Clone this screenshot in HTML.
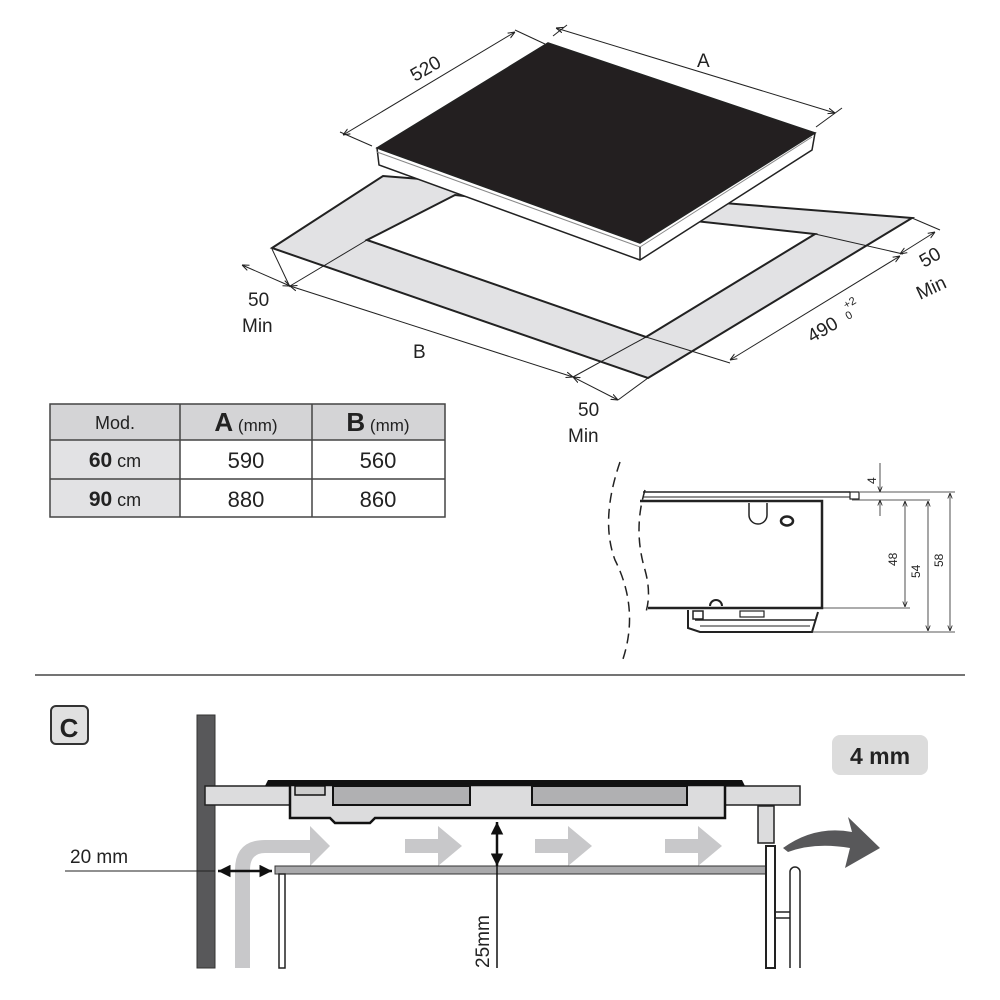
<!DOCTYPE html>
<html><head><meta charset="utf-8"><style>
html,body{margin:0;padding:0;background:#fff}
svg{display:block}
text{font-family:"Liberation Sans",sans-serif;fill:#222}
</style></head><body>
<svg width="1000" height="1000" viewBox="0 0 1000 1000" xmlns="http://www.w3.org/2000/svg">
<defs>
<marker id="ar" viewBox="0 0 10 10" refX="10" refY="5" markerWidth="7" markerHeight="7" orient="auto-start-reverse"><path d="M0,1 L10,5 L0,9" fill="none" stroke="#222" stroke-width="1.5"/></marker>
<marker id="ab" viewBox="0 0 10 10" refX="10" refY="5" markerWidth="5" markerHeight="5" orient="auto-start-reverse"><path d="M0,0 L10,5 L0,10 Z" fill="#111"/></marker>
</defs>

<!-- frame -->
<path d="M272,248 L383,176 L912,218 L648,378 Z M367,240 L646,337 L815,234 L455,195 Z" fill="#e2e2e4" fill-rule="evenodd" stroke="#222" stroke-width="2"/>
<!-- hob -->
<path d="M377,148 L379,165 L640,260 L812,150 L815,133 Z" fill="#fff" stroke="#222" stroke-width="1.5"/>
<path d="M377,148 L548,43 L815,133 L640,243 Z" fill="#231f20" stroke="#222" stroke-width="1.5"/>
<line x1="377" y1="152" x2="640" y2="247" stroke="#888" stroke-width="1"/>
<line x1="640" y1="247" x2="812" y2="137" stroke="#888" stroke-width="1"/>
<line x1="640" y1="247" x2="640" y2="260" stroke="#222" stroke-width="1.5"/>

<!-- dimension lines -->
<g stroke="#222" stroke-width="1" fill="none">
<line x1="343" y1="135" x2="515" y2="32" marker-start="url(#ar)" marker-end="url(#ar)"/>
<line x1="340" y1="132" x2="372" y2="146"/><line x1="515" y1="30" x2="545" y2="44"/>
<line x1="556" y1="28" x2="835" y2="113" marker-start="url(#ar)" marker-end="url(#ar)"/>
<line x1="553" y1="36" x2="567" y2="25"/><line x1="816" y1="127" x2="842" y2="108"/>
<line x1="242" y1="265" x2="290" y2="286" marker-start="url(#ar)" marker-end="url(#ar)"/>
<line x1="272" y1="249" x2="290" y2="287"/><line x1="290" y1="286" x2="367" y2="240"/>
<line x1="290" y1="286" x2="573" y2="377" marker-start="url(#ar)" marker-end="url(#ar)"/>
<line x1="573" y1="377" x2="618" y2="400" marker-start="url(#ar)" marker-end="url(#ar)"/>
<line x1="573" y1="377" x2="646" y2="337"/><line x1="618" y1="400" x2="648" y2="378"/>
<line x1="646" y1="337" x2="730" y2="363"/>
<line x1="730" y1="360" x2="900" y2="256" marker-start="url(#ar)" marker-end="url(#ar)"/>
<line x1="815" y1="234" x2="903" y2="254"/>
<line x1="900" y1="254" x2="935" y2="232" marker-start="url(#ar)" marker-end="url(#ar)"/>
<line x1="912" y1="218" x2="940" y2="230"/>
</g>
<g font-size="19">
<text x="0" y="0" transform="translate(415,82) rotate(-30)">520</text>
<text x="697" y="67">A</text>
<text x="248" y="306">50</text><text x="242" y="332">Min</text>
<text x="413" y="358">B</text>
<text x="578" y="416">50</text><text x="568" y="442">Min</text>
<text transform="translate(812,343) rotate(-30)">490</text>
<text font-size="11" transform="translate(846,309) rotate(-30)">+2</text>
<text font-size="11" transform="translate(848,320) rotate(-30)">0</text>
<text transform="translate(924,268) rotate(-30)">50</text>
<text transform="translate(920,300) rotate(-25)">Min</text>
</g>

<!-- table -->
<rect x="50" y="404" width="395" height="36" fill="#d4d4d6"/>
<rect x="50" y="440" width="130" height="77" fill="#e2e2e4"/>
<g stroke="#444" stroke-width="1.5" fill="none">
<rect x="50" y="404" width="395" height="113"/>
<line x1="50" y1="440" x2="445" y2="440"/><line x1="50" y1="479" x2="445" y2="479"/>
<line x1="180" y1="404" x2="180" y2="517"/><line x1="312" y1="404" x2="312" y2="517"/>
</g>
<g font-size="20" text-anchor="middle">
<text x="115" y="429" font-size="18" fill="#333">Mod.</text>
<text x="246" y="431"><tspan font-weight="bold" font-size="26">A</tspan><tspan font-size="17"> (mm)</tspan></text>
<text x="378" y="431"><tspan font-weight="bold" font-size="26">B</tspan><tspan font-size="17"> (mm)</tspan></text>
<text x="115" y="467"><tspan font-weight="bold" font-size="21">60</tspan><tspan font-size="18"> cm</tspan></text>
<text x="115" y="506"><tspan font-weight="bold" font-size="21">90</tspan><tspan font-size="18"> cm</tspan></text>
<text x="246" y="468" font-size="22">590</text><text x="378" y="468" font-size="22">560</text>
<text x="246" y="507" font-size="22">880</text><text x="378" y="507" font-size="22">860</text>
</g>

<!-- side section -->
<g fill="none" stroke="#222">
<path d="M620,462 Q600,520 615,560 Q640,610 622,662" stroke-width="1.5" stroke-dasharray="10,6"/>
<path d="M645,490 Q633,530 645,570 Q652,595 645,615" stroke-width="1.5" stroke-dasharray="10,6"/>
<line x1="643" y1="492" x2="850" y2="492" stroke-width="1.5"/>
<line x1="643" y1="497" x2="850" y2="497" stroke-width="1"/>
<rect x="850" y="492" width="9" height="7" stroke-width="1.2"/>
<path d="M640,501 L822,501 L822,608 L648,608" stroke-width="2.5"/>
<path d="M749,503 L749,515 a9,9 0 0 0 18,0 L767,503" stroke-width="1.5"/>
<ellipse cx="787" cy="521" rx="6" ry="4.5" stroke-width="2.5"/>
<path d="M688,610 L688,628 L700,632 L812,632 L818,612" stroke-width="2"/>
<line x1="695" y1="620" x2="815" y2="620" stroke-width="1.5"/>
<line x1="700" y1="626" x2="810" y2="626" stroke-width="1"/>
<rect x="693" y="611" width="10" height="8" stroke-width="1.5"/>
<rect x="740" y="611" width="24" height="6" stroke-width="1.2"/>
<path d="M710,606 a6,6 0 0 1 12,0" stroke-width="2"/>
<g stroke-width="0.8">
<line x1="860" y1="492" x2="955" y2="492"/><line x1="852" y1="500" x2="930" y2="500"/>
<line x1="822" y1="608" x2="910" y2="608"/><line x1="812" y1="632" x2="955" y2="632"/>
<line x1="880" y1="463" x2="880" y2="492" marker-end="url(#ar)"/>
<line x1="880" y1="516" x2="880" y2="500" marker-end="url(#ar)"/>
<line x1="905" y1="501" x2="905" y2="607" marker-start="url(#ar)" marker-end="url(#ar)"/>
<line x1="928" y1="501" x2="928" y2="631" marker-start="url(#ar)" marker-end="url(#ar)"/>
<line x1="950" y1="493" x2="950" y2="631" marker-start="url(#ar)" marker-end="url(#ar)"/>
</g>
</g>
<g font-size="12" fill="#333">
<text transform="translate(876,484) rotate(-90)">4</text>
<text transform="translate(897,566) rotate(-90)">48</text>
<text transform="translate(920,578) rotate(-90)">54</text>
<text transform="translate(943,567) rotate(-90)">58</text>
</g>

<line x1="35" y1="675" x2="965" y2="675" stroke="#222" stroke-width="1.2"/>

<!-- Section C -->
<rect x="51" y="706" width="37" height="38" rx="5" fill="#e0e0e0" stroke="#333" stroke-width="2"/>
<text x="69" y="737" font-size="26" font-weight="bold" text-anchor="middle">C</text>
<rect x="832" y="735" width="96" height="40" rx="8" fill="#dcdcdc"/>
<text x="880" y="764" font-size="23" font-weight="bold" text-anchor="middle">4 mm</text>

<rect x="197" y="715" width="18" height="253" fill="#58585a" stroke="#333"/>
<rect x="205" y="786" width="595" height="19" fill="#dcdcdd" stroke="#222" stroke-width="1.5"/>
<path d="M268,780 L742,780 L745,786 L265,786 Z" fill="#111"/>
<path d="M290,785 L725,785 L725,818 L375,818 L370,823 L335,823 L330,818 L290,818 Z" fill="#dcdcdd" stroke="#111" stroke-width="2.5"/>
<rect x="333" y="786" width="137" height="19" fill="#b0b0b2" stroke="#111" stroke-width="2"/>
<rect x="532" y="786" width="155" height="19" fill="#b0b0b2" stroke="#111" stroke-width="2"/>
<rect x="295" y="786" width="30" height="9" fill="#ccc" stroke="#111" stroke-width="1.5"/>
<rect x="758" y="806" width="16" height="37" fill="#dcdcdd" stroke="#222" stroke-width="1.5"/>

<g fill="#c8c8ca">
<path d="M235,968 L235,870 Q235,840 265,840 L310,840 L310,826 L330,846 L310,866 L310,853 L265,853 Q250,853 250,870 L250,968 Z"/>
<path d="M405,839 L438,839 L438,826 L462,846 L438,866 L438,853 L405,853 Z"/>
<path d="M535,839 L568,839 L568,826 L592,846 L568,866 L568,853 L535,853 Z"/>
<path d="M665,839 L698,839 L698,826 L722,846 L698,866 L698,853 L665,853 Z"/>
</g>

<path d="M275,866 L768,866 L768,848 L775,848 L775,874 L275,874 Z" fill="#a9a9ab" stroke="#333" stroke-width="1"/>
<rect x="279" y="874" width="6" height="94" fill="#fff" stroke="#222" stroke-width="1.5"/>
<rect x="766" y="846" width="9" height="122" fill="#fff" stroke="#222" stroke-width="2"/>
<path d="M790,968 L790,872 a5,5 0 0 1 10,0 L800,968" fill="#fff" stroke="#222" stroke-width="1.5"/>
<line x1="775" y1="912" x2="790" y2="912" stroke="#222" stroke-width="1.5"/>
<line x1="775" y1="918" x2="790" y2="918" stroke="#222" stroke-width="1.5"/>
<path d="M783,848 Q815,825 852,832 L848,817 L880,848 L845,868 L850,848 Q815,842 788,852 Z" fill="#58585a"/>

<line x1="65" y1="871" x2="215" y2="871" stroke="#222" stroke-width="1"/>
<line x1="218" y1="871" x2="272" y2="871" stroke="#111" stroke-width="2.5" marker-start="url(#ab)" marker-end="url(#ab)"/>
<text x="70" y="863" font-size="19">20 mm</text>
<line x1="497" y1="968" x2="497" y2="830" stroke="#111" stroke-width="1.5"/>
<line x1="497" y1="845" x2="497" y2="822" stroke="#111" stroke-width="2.5" marker-end="url(#ab)"/>
<line x1="497" y1="845" x2="497" y2="866" stroke="#111" stroke-width="2.5" marker-end="url(#ab)"/>
<text transform="translate(489,968) rotate(-90)" font-size="19">25mm</text>
</svg>
</body></html>
